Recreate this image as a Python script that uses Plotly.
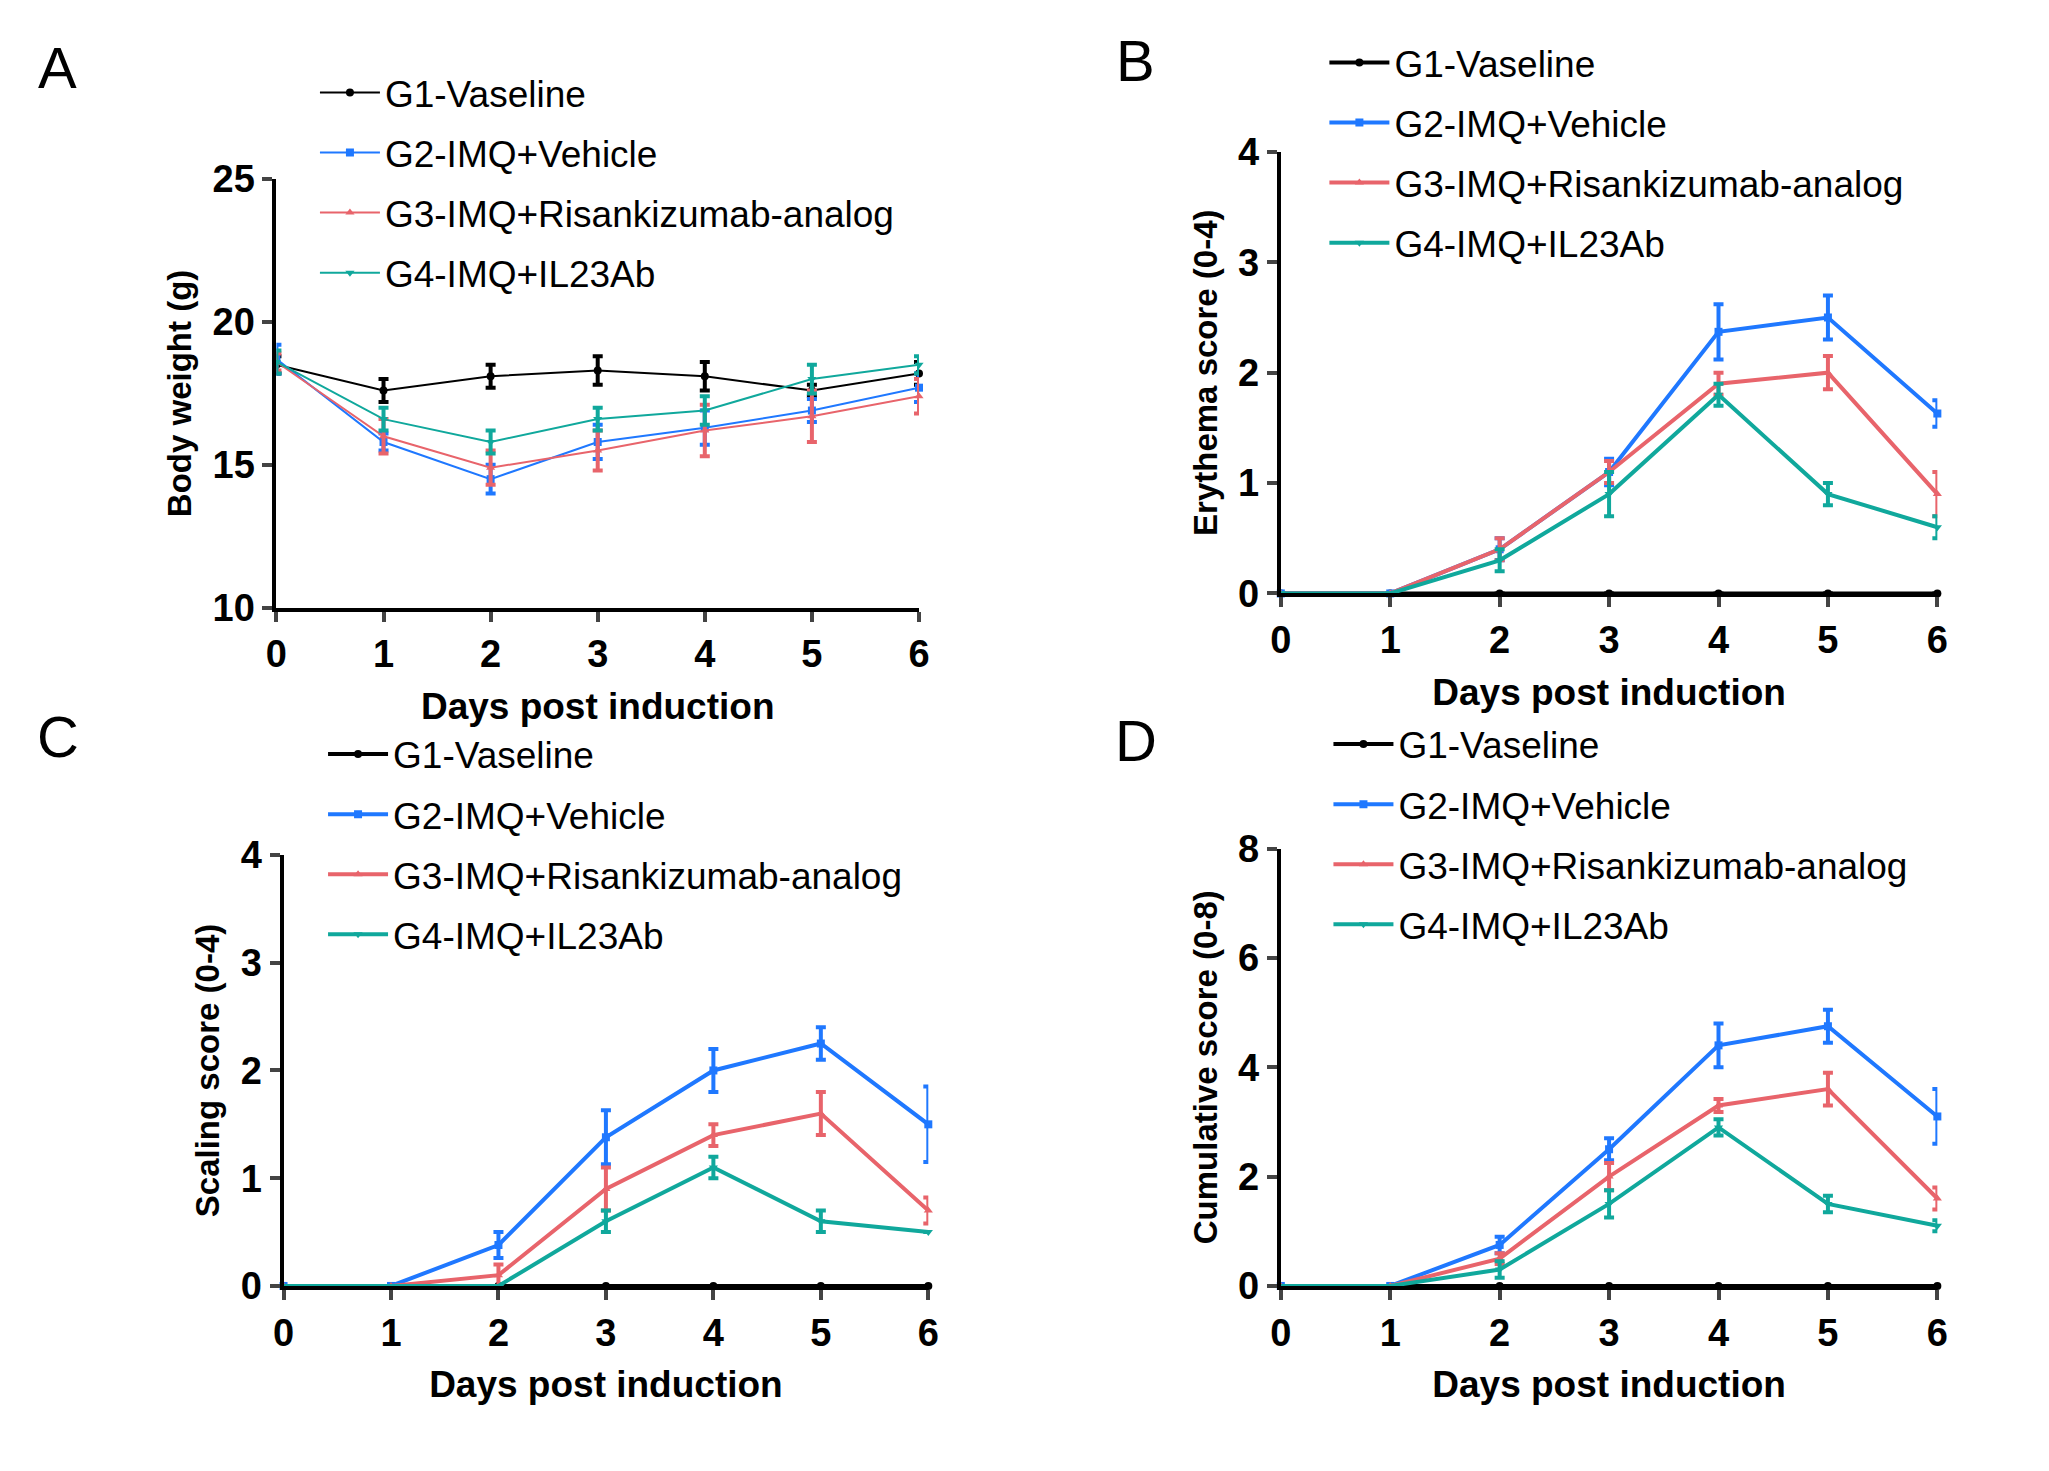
import plotly.graph_objects as go

days = [0, 1, 2, 3, 4, 5, 6]
groups = ["G1-Vaseline", "G2-IMQ+Vehicle", "G3-IMQ+Risankizumab-analog", "G4-IMQ+IL23Ab"]
colors = ["#000000", "#1f78ff", "#e8646b", "#10a89c"]
symbols = ["circle", "square", "triangle-up", "triangle-down"]

# panel A - body weight
bw_mean = [
    [18.5, 17.6, 18.1, 18.3, 18.1, 17.6, 18.2],
    [18.7, 15.8, 14.5, 15.8, 16.3, 16.9, 17.7],
    [18.6, 16.0, 14.9, 15.5, 16.2, 16.7, 17.4],
    [18.6, 16.6, 15.8, 16.6, 16.9, 18.0, 18.5],
]
bw_err = [
    [0.3, 0.4, 0.4, 0.5, 0.5, 0.2, 0.4],
    [0.5, 0.3, 0.5, 0.6, 0.6, 0.4, 0.5],
    [0.3, 0.6, 0.6, 0.7, 0.9, 0.9, 0.6],
    [0.4, 0.4, 0.4, 0.4, 0.5, 0.5, 0.3],
]
# panel B - erythema
ery_mean = [
    [0, 0, 0, 0, 0, 0, 0],
    [0, 0, 0.4, 1.1, 2.37, 2.5, 1.63],
    [0, 0, 0.4, 1.1, 1.9, 2.0, 0.9],
    [0, 0, 0.3, 0.9, 1.8, 0.9, 0.6],
]
ery_err = [
    [0, 0, 0, 0, 0, 0, 0],
    [0, 0, 0.1, 0.12, 0.25, 0.2, 0.12],
    [0, 0, 0.1, 0.1, 0.1, 0.15, 0.2],
    [0, 0, 0.1, 0.2, 0.1, 0.1, 0.1],
]
# panel C - scaling
scl_mean = [
    [0, 0, 0, 0, 0, 0, 0],
    [0, 0, 0.38, 1.38, 2.0, 2.25, 1.5],
    [0, 0, 0.1, 0.9, 1.4, 1.6, 0.7],
    [0, 0, 0, 0.6, 1.1, 0.6, 0.5],
]
scl_err = [
    [0, 0, 0, 0, 0, 0, 0],
    [0, 0, 0.12, 0.25, 0.2, 0.15, 0.35],
    [0, 0, 0.1, 0.2, 0.1, 0.2, 0.12],
    [0, 0, 0, 0.1, 0.1, 0.1, 0],
]
# panel D - cumulative
cum_mean = [
    [0, 0, 0, 0, 0, 0, 0],
    [0, 0, 0.75, 2.5, 4.4, 4.75, 3.1],
    [0, 0, 0.5, 2.0, 3.3, 3.6, 1.6],
    [0, 0, 0.3, 1.5, 2.9, 1.5, 1.1],
]
cum_err = [
    [0, 0, 0, 0, 0, 0, 0],
    [0, 0, 0.15, 0.2, 0.4, 0.3, 0.5],
    [0, 0, 0.1, 0.25, 0.12, 0.3, 0.2],
    [0, 0, 0.15, 0.25, 0.15, 0.15, 0.1],
]

narrow = "Liberation Sans Narrow, Arial Narrow, sans-serif"
fig = go.Figure()

panels = [
    # (means, errs, axis suffix, legend, xdom, ydom, yrange, ytick, ytitle, lw, legend pos)
    (bw_mean, bw_err, "", "legend", [0.127, 0.444], [0.595, 0.895], [10, 25], [10, 15, 20, 25], "Body weight (g)", 2, (0.146, 0.977)),
    (ery_mean, ery_err, "2", "legend2", [0.6225, 0.9464], [0.605, 0.914], [0, 4], [0, 1, 2, 3, 4], "Erythema score (0-4)", 4, (0.644, 0.998)),
    (scl_mean, scl_err, "3", "legend3", [0.1305, 0.4486], [0.1204, 0.422], [0, 4], [0, 1, 2, 3, 4], "Scaling score (0-4)", 4, (0.150, 0.514)),
    (cum_mean, cum_err, "4", "legend4", [0.6225, 0.9464], [0.1204, 0.4265], [0, 8], [0, 2, 4, 6, 8], "Cumulative score (0-8)", 4, (0.646, 0.521)),
]

for means, errs, sfx, leg, xd, yd, yr, yt, ytitle, lw, lpos in panels:
    for i in range(4):
        fig.add_trace(go.Scatter(
            x=days, y=means[i], name=groups[i], mode="lines+markers",
            xaxis="x" + sfx, yaxis="y" + sfx, legend=leg, legendgroup=leg + str(i),
            line=dict(color=colors[i], width=lw),
            marker=dict(symbol=symbols[i], size=8, color=colors[i]),
            error_y=dict(type="data", array=errs[i], color=colors[i], thickness=4, width=5),
            cliponaxis=False,
        ))
    ax = dict(domain=xd, range=[0, 6], tickvals=days, ticks="outside", ticklen=10, tickwidth=4,
              showline=True, linewidth=4, linecolor="black", showgrid=False, zeroline=False,
              tickfont=dict(family=narrow, size=38, color="black", weight="bold"),
              title=dict(text="Days post induction", standoff=20,
                         font=dict(family=narrow, size=37, color="black", weight="bold")),
              anchor="y" + sfx)
    ay = dict(domain=yd, range=yr, tickvals=yt, ticks="outside", ticklen=10, tickwidth=4,
              showline=True, linewidth=4, linecolor="black", showgrid=False, zeroline=False,
              tickfont=dict(family=narrow, size=38, color="black", weight="bold"),
              title=dict(text=ytitle, standoff=12,
                         font=dict(family="Liberation Sans, Arial", size=33, color="black", weight="bold")),
              anchor="x" + sfx)
    fig.layout["xaxis" + sfx] = ax
    fig.layout["yaxis" + sfx] = ay
    fig.layout[leg] = dict(x=lpos[0], y=lpos[1], xanchor="left", yanchor="top",
                           font=dict(family=narrow, size=37, color="black"),
                           tracegroupgap=9, bgcolor="rgba(0,0,0,0)", itemwidth=60)

for letter, x, y in [("A", 0.019, 0.973), ("B", 0.551, 0.978), ("C", 0.019, 0.505), ("D", 0.551, 0.502)]:
    fig.add_annotation(text=letter, x=x, y=y, xref="paper", yref="paper", showarrow=False,
                       xanchor="center", yanchor="middle",
                       font=dict(family=narrow, size=58, color="black"))

fig.update_layout(width=2049, height=1471, plot_bgcolor="white", paper_bgcolor="white",
                  margin=dict(l=0, r=0, t=0, b=0), showlegend=True)
fig.write_html("out.html")
